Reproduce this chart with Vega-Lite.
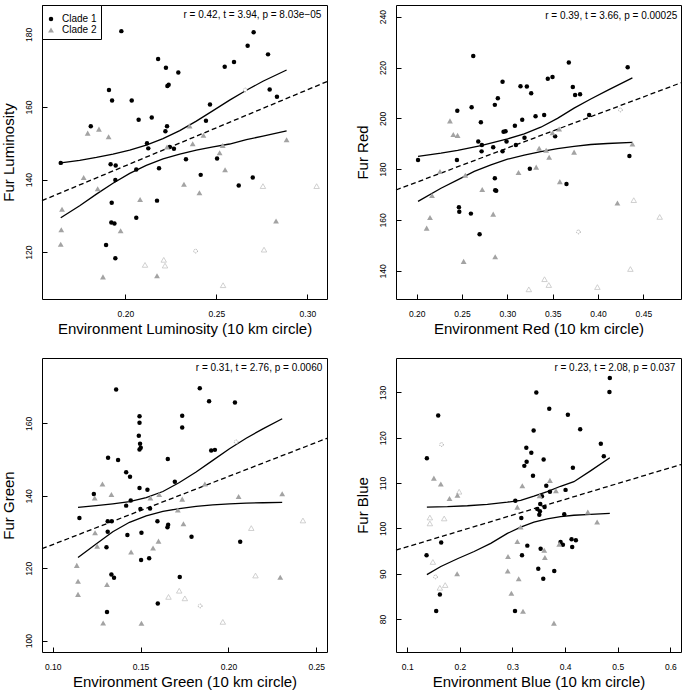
{
"$schema": "https://vega.github.io/schema/vega-lite/v6.json",
"background": "white",
"padding": {"left": 0, "top": 4, "right": 2, "bottom": 0},
"config": {
  "view": {"stroke": "black", "strokeWidth": 1},
  "font": "Liberation Sans",
  "axis": {"domain": false, "grid": false, "ticks": true, "tickSize": -5, "tickColor": "black", "tickWidth": 1,
    "labelFont": "Liberation Sans", "labelFontSize": 8.5, "labelColor": "black", "labelFlush": false, "labelOverlap": false, "labelBound": false,
    "titleFont": "Liberation Sans", "titleFontSize": 15, "titleFontWeight": "normal", "titleColor": "black"},
  "axisX": {"labelPadding": 15.5, "titlePadding": 3},
  "axisY": {"labelAngle": -90, "labelAlign": "center", "labelBaseline": "bottom", "labelPadding": 14, "titlePadding": 8},
  "legend": {"orient": "top-left", "offset": 0, "strokeColor": "black", "fillColor": "white", "padding": 4, "labelFontSize": 10, "labelFont": "Liberation Sans", "labelColor": "black", "symbolSize": 20, "rowPadding": 1, "labelOffset": 6, "symbolStrokeWidth": 0, "cornerRadius": 0, "titleFontSize": 3, "titlePadding": 2}
},
"columns": 2,
"spacing": {"row": 20, "column": 23},
"resolve": {"scale": {"x": "independent", "y": "independent", "color": "independent", "shape": "independent", "size": "independent"}},
"datasets": {
  "p1": [
    {"x":0.1645,"y":144.6,"group":"Clade 1"},{"x":0.1978,"y":180.9,"group":"Clade 1"},{"x":0.181,"y":154.7,"group":"Clade 1"},{"x":0.191,"y":164.7,"group":"Clade 1"},{"x":0.1927,"y":161.8,"group":"Clade 1"},{"x":0.2035,"y":161.8,"group":"Clade 1"},{"x":0.2073,"y":156.5,"group":"Clade 1"},{"x":0.2145,"y":157.1,"group":"Clade 1"},{"x":0.218,"y":173.2,"group":"Clade 1"},{"x":0.2223,"y":170.8,"group":"Clade 1"},{"x":0.2231,"y":165.8,"group":"Clade 1"},{"x":0.2238,"y":166.1,"group":"Clade 1"},{"x":0.2291,"y":169.5,"group":"Clade 1"},{"x":0.2229,"y":154.7,"group":"Clade 1"},{"x":0.222,"y":153.3,"group":"Clade 1"},{"x":0.2119,"y":150.0,"group":"Clade 1"},{"x":0.2126,"y":148.6,"group":"Clade 1"},{"x":0.2244,"y":149.0,"group":"Clade 1"},{"x":0.2267,"y":148.5,"group":"Clade 1"},{"x":0.1919,"y":144.2,"group":"Clade 1"},{"x":0.1947,"y":143.9,"group":"Clade 1"},{"x":0.1945,"y":139.9,"group":"Clade 1"},{"x":0.206,"y":142.8,"group":"Clade 1"},{"x":0.2185,"y":143.1,"group":"Clade 1"},{"x":0.2333,"y":145.6,"group":"Clade 1"},{"x":0.2414,"y":141.3,"group":"Clade 1"},{"x":0.2465,"y":160.7,"group":"Clade 1"},{"x":0.2443,"y":156.2,"group":"Clade 1"},{"x":0.2504,"y":145.8,"group":"Clade 1"},{"x":0.2546,"y":171.1,"group":"Clade 1"},{"x":0.2597,"y":172.4,"group":"Clade 1"},{"x":0.2623,"y":138.4,"group":"Clade 1"},{"x":0.2672,"y":176.9,"group":"Clade 1"},{"x":0.27,"y":140.6,"group":"Clade 1"},{"x":0.2705,"y":180.6,"group":"Clade 1"},{"x":0.2784,"y":174.5,"group":"Clade 1"},{"x":0.2793,"y":164.8,"group":"Clade 1"},{"x":0.2833,"y":162.8,"group":"Clade 1"},{"x":0.2174,"y":134.2,"group":"Clade 1"},{"x":0.1925,"y":133.6,"group":"Clade 1"},{"x":0.1923,"y":128.2,"group":"Clade 1"},{"x":0.194,"y":127.9,"group":"Clade 1"},{"x":0.206,"y":129.5,"group":"Clade 1"},{"x":0.1894,"y":122.0,"group":"Clade 1"},{"x":0.1945,"y":118.3,"group":"Clade 1"},
    {"x":0.1793,"y":152.8,"group":"Clade 2"},{"x":0.1855,"y":153.9,"group":"Clade 2"},{"x":0.1908,"y":151.8,"group":"Clade 2"},{"x":0.1771,"y":140.6,"group":"Clade 2"},{"x":0.1848,"y":137.5,"group":"Clade 2"},{"x":0.1652,"y":131.8,"group":"Clade 2"},{"x":0.1648,"y":126.2,"group":"Clade 2"},{"x":0.1645,"y":122.2,"group":"Clade 2"},{"x":0.1974,"y":125.9,"group":"Clade 2"},{"x":0.2081,"y":134.5,"group":"Clade 2"},{"x":0.1877,"y":113.2,"group":"Clade 2"},{"x":0.2174,"y":113.5,"group":"Clade 2"},{"x":0.2353,"y":154.8,"group":"Clade 2"},{"x":0.237,"y":149.9,"group":"Clade 2"},{"x":0.2429,"y":152.2,"group":"Clade 2"},{"x":0.2229,"y":149.0,"group":"Clade 2"},{"x":0.2322,"y":138.7,"group":"Clade 2"},{"x":0.2407,"y":136.4,"group":"Clade 2"},{"x":0.2518,"y":147.4,"group":"Clade 2"},{"x":0.2535,"y":149.4,"group":"Clade 2"},{"x":0.2548,"y":142.7,"group":"Clade 2"},{"x":0.2886,"y":151.0,"group":"Clade 2"},{"x":0.2828,"y":128.6,"group":"Clade 2"},
    {"x":0.2108,"y":116.5,"group":"Clade 2 open"},{"x":0.2211,"y":117.9,"group":"Clade 2 open"},{"x":0.2218,"y":116.3,"group":"Clade 2 open"},{"x":0.2537,"y":110.9,"group":"Clade 2 open"},{"x":0.2756,"y":138.2,"group":"Clade 2 open"},{"x":0.2762,"y":120.7,"group":"Clade 2 open"},{"x":0.3051,"y":138.2,"group":"Clade 2 open"},
    {"x":0.2386,"y":120.3,"group":"Clade 1 open"},{"x":0.2659,"y":164.7,"group":"Clade 1 open"}
  ],
  "b1": [
    {"x":0.1645,"y":144.6,"band":"upper"},{"x":0.1749,"y":145.3,"band":"upper"},{"x":0.1841,"y":146.1,"band":"upper"},{"x":0.1932,"y":147.0,"band":"upper"},{"x":0.2024,"y":148.1,"band":"upper"},{"x":0.2115,"y":149.5,"band":"upper"},{"x":0.2207,"y":151.3,"band":"upper"},{"x":0.2299,"y":153.5,"band":"upper"},{"x":0.239,"y":156.1,"band":"upper"},{"x":0.2482,"y":159.0,"band":"upper"},{"x":0.2573,"y":161.9,"band":"upper"},{"x":0.2665,"y":164.6,"band":"upper"},{"x":0.2756,"y":167.1,"band":"upper"},{"x":0.2886,"y":170.2,"band":"upper"},
    {"x":0.1645,"y":129.5,"band":"lower"},{"x":0.1749,"y":132.8,"band":"lower"},{"x":0.1841,"y":136.0,"band":"lower"},{"x":0.1932,"y":139.0,"band":"lower"},{"x":0.2024,"y":141.7,"band":"lower"},{"x":0.2115,"y":143.9,"band":"lower"},{"x":0.2207,"y":145.7,"band":"lower"},{"x":0.2299,"y":147.0,"band":"lower"},{"x":0.239,"y":148.1,"band":"lower"},{"x":0.2482,"y":149.0,"band":"lower"},{"x":0.2573,"y":149.8,"band":"lower"},{"x":0.2665,"y":151.0,"band":"lower"},{"x":0.2756,"y":152.0,"band":"lower"},{"x":0.2886,"y":153.4,"band":"lower"}
  ],
  "f1": [{"x":0.1542,"y":134.2},{"x":0.3108,"y":167.0}],
  "t1": [{"x":0.3077,"y":185.3,"label":"r = 0.42, t = 3.94, p = 8.03e−05"}],
  "p2": [
    {"x":0.2015,"y":183.6,"group":"Clade 1"},{"x":0.2624,"y":224.5,"group":"Clade 1"},{"x":0.2448,"y":203.0,"group":"Clade 1"},{"x":0.2606,"y":204.4,"group":"Clade 1"},{"x":0.2708,"y":198.5,"group":"Clade 1"},{"x":0.2679,"y":190.9,"group":"Clade 1"},{"x":0.2719,"y":189.5,"group":"Clade 1"},{"x":0.2716,"y":187.0,"group":"Clade 1"},{"x":0.2444,"y":183.6,"group":"Clade 1"},{"x":0.2844,"y":188.6,"group":"Clade 1"},{"x":0.2862,"y":205.3,"group":"Clade 1"},{"x":0.2895,"y":207.9,"group":"Clade 1"},{"x":0.2947,"y":214.4,"group":"Clade 1"},{"x":0.2958,"y":194.7,"group":"Clade 1"},{"x":0.298,"y":194.9,"group":"Clade 1"},{"x":0.2991,"y":190.9,"group":"Clade 1"},{"x":0.2947,"y":187.0,"group":"Clade 1"},{"x":0.3083,"y":197.1,"group":"Clade 1"},{"x":0.3094,"y":189.5,"group":"Clade 1"},{"x":0.3145,"y":212.6,"group":"Clade 1"},{"x":0.3164,"y":199.4,"group":"Clade 1"},{"x":0.3189,"y":192.4,"group":"Clade 1"},{"x":0.3215,"y":212.5,"group":"Clade 1"},{"x":0.3263,"y":209.9,"group":"Clade 1"},{"x":0.3248,"y":180.2,"group":"Clade 1"},{"x":0.3311,"y":200.8,"group":"Clade 1"},{"x":0.3406,"y":201.3,"group":"Clade 1"},{"x":0.3446,"y":215.6,"group":"Clade 1"},{"x":0.3498,"y":216.3,"group":"Clade 1"},{"x":0.3527,"y":192.9,"group":"Clade 1"},{"x":0.3678,"y":222.0,"group":"Clade 1"},{"x":0.3722,"y":212.3,"group":"Clade 1"},{"x":0.3747,"y":209.2,"group":"Clade 1"},{"x":0.3802,"y":209.5,"group":"Clade 1"},{"x":0.3902,"y":201.3,"group":"Clade 1"},{"x":0.3652,"y":174.2,"group":"Clade 1"},{"x":0.4327,"y":220.1,"group":"Clade 1"},{"x":0.4346,"y":185.2,"group":"Clade 1"},{"x":0.2862,"y":176.4,"group":"Clade 1"},{"x":0.2866,"y":171.7,"group":"Clade 1"},{"x":0.2877,"y":171.5,"group":"Clade 1"},{"x":0.2466,"y":165.0,"group":"Clade 1"},{"x":0.247,"y":163.2,"group":"Clade 1"},{"x":0.2598,"y":162.5,"group":"Clade 1"},{"x":0.2694,"y":154.4,"group":"Clade 1"},
    {"x":0.2367,"y":199.0,"group":"Clade 2"},{"x":0.2404,"y":193.6,"group":"Clade 2"},{"x":0.2451,"y":193.3,"group":"Clade 2"},{"x":0.2257,"y":179.1,"group":"Clade 2"},{"x":0.2536,"y":177.6,"group":"Clade 2"},{"x":0.2169,"y":169.6,"group":"Clade 2"},{"x":0.2147,"y":161.0,"group":"Clade 2"},{"x":0.211,"y":156.8,"group":"Clade 2"},{"x":0.2723,"y":172.0,"group":"Clade 2"},{"x":0.2844,"y":162.3,"group":"Clade 2"},{"x":0.2518,"y":143.7,"group":"Clade 2"},{"x":0.2866,"y":145.5,"group":"Clade 2"},{"x":0.3123,"y":178.7,"group":"Clade 2"},{"x":0.3318,"y":180.8,"group":"Clade 2"},{"x":0.3351,"y":188.2,"group":"Clade 2"},{"x":0.3428,"y":187.4,"group":"Clade 2"},{"x":0.3461,"y":184.7,"group":"Clade 2"},{"x":0.3498,"y":194.3,"group":"Clade 2"},{"x":0.3571,"y":195.8,"group":"Clade 2"},{"x":0.3579,"y":175.1,"group":"Clade 2"},{"x":0.3736,"y":186.7,"group":"Clade 2"},{"x":0.4214,"y":166.7,"group":"Clade 2"},{"x":0.4379,"y":189.9,"group":"Clade 2"},
    {"x":0.3237,"y":132.7,"group":"Clade 2 open"},{"x":0.341,"y":136.7,"group":"Clade 2 open"},{"x":0.3457,"y":134.4,"group":"Clade 2 open"},{"x":0.3993,"y":133.6,"group":"Clade 2 open"},{"x":0.4357,"y":140.7,"group":"Clade 2 open"},{"x":0.4394,"y":167.8,"group":"Clade 2 open"},{"x":0.468,"y":161.2,"group":"Clade 2 open"},
    {"x":0.3784,"y":155.3,"group":"Clade 1 open"},{"x":0.4247,"y":203.3,"group":"Clade 1 open"}
  ],
  "b2": [
    {"x":0.2015,"y":185.0,"band":"upper"},{"x":0.2268,"y":186.3,"band":"upper"},{"x":0.2452,"y":187.4,"band":"upper"},{"x":0.2709,"y":189.3,"band":"upper"},{"x":0.3002,"y":191.9,"band":"upper"},{"x":0.3186,"y":193.9,"band":"upper"},{"x":0.3369,"y":196.5,"band":"upper"},{"x":0.3553,"y":200.0,"band":"upper"},{"x":0.3736,"y":204.0,"band":"upper"},{"x":0.392,"y":207.6,"band":"upper"},{"x":0.4104,"y":211.0,"band":"upper"},{"x":0.4379,"y":215.9,"band":"upper"},
    {"x":0.2015,"y":167.3,"band":"lower"},{"x":0.2268,"y":172.5,"band":"lower"},{"x":0.2452,"y":175.8,"band":"lower"},{"x":0.2635,"y":179.1,"band":"lower"},{"x":0.2819,"y":181.7,"band":"lower"},{"x":0.3002,"y":183.9,"band":"lower"},{"x":0.3186,"y":185.5,"band":"lower"},{"x":0.3369,"y":186.9,"band":"lower"},{"x":0.3553,"y":188.1,"band":"lower"},{"x":0.3736,"y":189.0,"band":"lower"},{"x":0.392,"y":189.7,"band":"lower"},{"x":0.4104,"y":190.1,"band":"lower"},{"x":0.4379,"y":190.5,"band":"lower"}
  ],
  "f2": [{"x":0.1772,"y":171.8},{"x":0.4915,"y":214.0}],
  "t2": [{"x":0.4874,"y":240.4,"label":"r = 0.39, t = 3.66, p = 0.00025"}],
  "p3": [
    {"x":0.1152,"y":133.9,"group":"Clade 1"},{"x":0.1234,"y":140.5,"group":"Clade 1"},{"x":0.1315,"y":150.5,"group":"Clade 1"},{"x":0.1361,"y":169.4,"group":"Clade 1"},{"x":0.1372,"y":149.9,"group":"Clade 1"},{"x":0.1418,"y":146.5,"group":"Clade 1"},{"x":0.144,"y":145.3,"group":"Clade 1"},{"x":0.1418,"y":137.3,"group":"Clade 1"},{"x":0.1444,"y":138.7,"group":"Clade 1"},{"x":0.1313,"y":133.0,"group":"Clade 1"},{"x":0.1336,"y":133.0,"group":"Clade 1"},{"x":0.1313,"y":130.1,"group":"Clade 1"},{"x":0.1425,"y":129.2,"group":"Clade 1"},{"x":0.1306,"y":125.8,"group":"Clade 1"},{"x":0.1494,"y":162.0,"group":"Clade 1"},{"x":0.1494,"y":160.2,"group":"Clade 1"},{"x":0.149,"y":156.6,"group":"Clade 1"},{"x":0.1497,"y":154.4,"group":"Clade 1"},{"x":0.1501,"y":153.3,"group":"Clade 1"},{"x":0.1494,"y":152.8,"group":"Clade 1"},{"x":0.1494,"y":142.2,"group":"Clade 1"},{"x":0.1499,"y":136.4,"group":"Clade 1"},{"x":0.1505,"y":129.8,"group":"Clade 1"},{"x":0.1503,"y":122.3,"group":"Clade 1"},{"x":0.1539,"y":141.7,"group":"Clade 1"},{"x":0.1554,"y":136.5,"group":"Clade 1"},{"x":0.1549,"y":122.8,"group":"Clade 1"},{"x":0.1596,"y":133.0,"group":"Clade 1"},{"x":0.1598,"y":110.3,"group":"Clade 1"},{"x":0.1655,"y":150.2,"group":"Clade 1"},{"x":0.1653,"y":131.3,"group":"Clade 1"},{"x":0.1657,"y":132.0,"group":"Clade 1"},{"x":0.1695,"y":143.9,"group":"Clade 1"},{"x":0.1737,"y":162.1,"group":"Clade 1"},{"x":0.1737,"y":158.9,"group":"Clade 1"},{"x":0.1723,"y":117.6,"group":"Clade 1"},{"x":0.1334,"y":118.3,"group":"Clade 1"},{"x":0.1349,"y":117.4,"group":"Clade 1"},{"x":0.1309,"y":107.9,"group":"Clade 1"},{"x":0.179,"y":128.7,"group":"Clade 1"},{"x":0.1837,"y":169.7,"group":"Clade 1"},{"x":0.189,"y":166.1,"group":"Clade 1"},{"x":0.1902,"y":152.5,"group":"Clade 1"},{"x":0.1923,"y":152.7,"group":"Clade 1"},{"x":0.2037,"y":165.8,"group":"Clade 1"},{"x":0.2067,"y":127.3,"group":"Clade 1"},
    {"x":0.1137,"y":120.8,"group":"Clade 2"},{"x":0.1144,"y":116.4,"group":"Clade 2"},{"x":0.1144,"y":112.8,"group":"Clade 2"},{"x":0.1239,"y":139.4,"group":"Clade 2"},{"x":0.1241,"y":129.8,"group":"Clade 2"},{"x":0.1253,"y":126.1,"group":"Clade 2"},{"x":0.1283,"y":143.3,"group":"Clade 2"},{"x":0.1334,"y":140.4,"group":"Clade 2"},{"x":0.1309,"y":115.5,"group":"Clade 2"},{"x":0.1287,"y":104.9,"group":"Clade 2"},{"x":0.1446,"y":124.5,"group":"Clade 2"},{"x":0.1505,"y":104.8,"group":"Clade 2"},{"x":0.1556,"y":139.4,"group":"Clade 2"},{"x":0.1606,"y":140.4,"group":"Clade 2"},{"x":0.1571,"y":125.6,"group":"Clade 2"},{"x":0.1602,"y":127.5,"group":"Clade 2"},{"x":0.1712,"y":136.1,"group":"Clade 2"},{"x":0.1737,"y":139.1,"group":"Clade 2"},{"x":0.1744,"y":132.3,"group":"Clade 2"},{"x":0.1866,"y":143.3,"group":"Clade 2"},{"x":0.2058,"y":139.8,"group":"Clade 2"},{"x":0.2306,"y":140.6,"group":"Clade 2"},{"x":0.2295,"y":117.5,"group":"Clade 2"},
    {"x":0.1659,"y":112.1,"group":"Clade 2 open"},{"x":0.172,"y":113.8,"group":"Clade 2 open"},{"x":0.1752,"y":111.7,"group":"Clade 2 open"},{"x":0.1968,"y":105.2,"group":"Clade 2 open"},{"x":0.213,"y":131.1,"group":"Clade 2 open"},{"x":0.2154,"y":118.0,"group":"Clade 2 open"},{"x":0.2424,"y":133.2,"group":"Clade 2 open"},
    {"x":0.1839,"y":109.6,"group":"Clade 1 open"},{"x":0.2044,"y":154.9,"group":"Clade 1 open"}
  ],
  "b3": [
    {"x":0.1144,"y":136.8,"band":"upper"},{"x":0.1247,"y":137.3,"band":"upper"},{"x":0.1342,"y":137.8,"band":"upper"},{"x":0.1437,"y":138.4,"band":"upper"},{"x":0.1532,"y":139.5,"band":"upper"},{"x":0.1627,"y":141.2,"band":"upper"},{"x":0.1721,"y":143.7,"band":"upper"},{"x":0.1816,"y":146.6,"band":"upper"},{"x":0.1911,"y":149.8,"band":"upper"},{"x":0.2006,"y":153.0,"band":"upper"},{"x":0.2101,"y":155.9,"band":"upper"},{"x":0.2196,"y":158.5,"band":"upper"},{"x":0.2306,"y":161.3,"band":"upper"},
    {"x":0.1144,"y":123.0,"band":"lower"},{"x":0.1247,"y":126.7,"band":"lower"},{"x":0.1342,"y":130.1,"band":"lower"},{"x":0.1437,"y":132.7,"band":"lower"},{"x":0.1532,"y":134.5,"band":"lower"},{"x":0.1627,"y":135.7,"band":"lower"},{"x":0.1721,"y":136.5,"band":"lower"},{"x":0.1816,"y":137.1,"band":"lower"},{"x":0.1911,"y":137.5,"band":"lower"},{"x":0.2006,"y":137.8,"band":"lower"},{"x":0.2101,"y":138.0,"band":"lower"},{"x":0.2196,"y":138.1,"band":"lower"},{"x":0.2306,"y":138.2,"band":"lower"}
  ],
  "f3": [{"x":0.0939,"y":125.4},{"x":0.2561,"y":155.9}],
  "t3": [{"x":0.2534,"y":175.3,"label":"r = 0.31, t = 2.76, p = 0.0060"}],
  "p4": [
    {"x":0.1373,"y":115.5,"group":"Clade 1"},{"x":0.1588,"y":124.9,"group":"Clade 1"},{"x":0.1367,"y":94.1,"group":"Clade 1"},{"x":0.1645,"y":96.9,"group":"Clade 1"},{"x":0.162,"y":85.4,"group":"Clade 1"},{"x":0.155,"y":81.8,"group":"Clade 1"},{"x":0.3453,"y":130.0,"group":"Clade 1"},{"x":0.3402,"y":121.6,"group":"Clade 1"},{"x":0.3263,"y":117.8,"group":"Clade 1"},{"x":0.3269,"y":114.7,"group":"Clade 1"},{"x":0.3358,"y":116.7,"group":"Clade 1"},{"x":0.3225,"y":113.8,"group":"Clade 1"},{"x":0.339,"y":111.6,"group":"Clade 1"},{"x":0.3592,"y":115.2,"group":"Clade 1"},{"x":0.3699,"y":126.4,"group":"Clade 1"},{"x":0.4053,"y":125.1,"group":"Clade 1"},{"x":0.4287,"y":121.9,"group":"Clade 1"},{"x":0.485,"y":133.2,"group":"Clade 1"},{"x":0.4843,"y":130.1,"group":"Clade 1"},{"x":0.4679,"y":118.7,"group":"Clade 1"},{"x":0.4736,"y":115.9,"group":"Clade 1"},{"x":0.4148,"y":113.4,"group":"Clade 1"},{"x":0.3642,"y":109.4,"group":"Clade 1"},{"x":0.3712,"y":108.1,"group":"Clade 1"},{"x":0.4009,"y":108.5,"group":"Clade 1"},{"x":0.3054,"y":106.1,"group":"Clade 1"},{"x":0.356,"y":107.1,"group":"Clade 1"},{"x":0.3528,"y":105.4,"group":"Clade 1"},{"x":0.361,"y":104.7,"group":"Clade 1"},{"x":0.3472,"y":104.3,"group":"Clade 1"},{"x":0.3522,"y":103.8,"group":"Clade 1"},{"x":0.351,"y":103.0,"group":"Clade 1"},{"x":0.3168,"y":102.3,"group":"Clade 1"},{"x":0.3984,"y":103.1,"group":"Clade 1"},{"x":0.4123,"y":97.6,"group":"Clade 1"},{"x":0.4205,"y":97.4,"group":"Clade 1"},{"x":0.3282,"y":96.2,"group":"Clade 1"},{"x":0.3535,"y":95.5,"group":"Clade 1"},{"x":0.3914,"y":97.0,"group":"Clade 1"},{"x":0.3958,"y":96.4,"group":"Clade 1"},{"x":0.4135,"y":95.9,"group":"Clade 1"},{"x":0.3181,"y":94.1,"group":"Clade 1"},{"x":0.349,"y":91.1,"group":"Clade 1"},{"x":0.3585,"y":88.9,"group":"Clade 1"},{"x":0.3794,"y":90.6,"group":"Clade 1"},{"x":0.3048,"y":81.8,"group":"Clade 1"},
    {"x":0.1506,"y":111.1,"group":"Clade 2"},{"x":0.1638,"y":109.8,"group":"Clade 2"},{"x":0.1803,"y":106.6,"group":"Clade 2"},{"x":0.1954,"y":107.3,"group":"Clade 2"},{"x":0.1948,"y":90.0,"group":"Clade 2"},{"x":0.2915,"y":93.8,"group":"Clade 2"},{"x":0.2909,"y":90.6,"group":"Clade 2"},{"x":0.2979,"y":85.7,"group":"Clade 2"},{"x":0.3092,"y":104.7,"group":"Clade 2"},{"x":0.3092,"y":97.1,"group":"Clade 2"},{"x":0.3118,"y":88.9,"group":"Clade 2"},{"x":0.3187,"y":109.4,"group":"Clade 2"},{"x":0.3155,"y":100.3,"group":"Clade 2"},{"x":0.32,"y":81.7,"group":"Clade 2"},{"x":0.3516,"y":107.2,"group":"Clade 2"},{"x":0.3604,"y":95.2,"group":"Clade 2"},{"x":0.3616,"y":93.6,"group":"Clade 2"},{"x":0.3712,"y":110.6,"group":"Clade 2"},{"x":0.3826,"y":108.3,"group":"Clade 2"},{"x":0.3889,"y":96.5,"group":"Clade 2"},{"x":0.3788,"y":79.1,"group":"Clade 2"},{"x":0.4432,"y":103.6,"group":"Clade 2"},{"x":0.4609,"y":101.4,"group":"Clade 2"},
    {"x":0.1986,"y":108.1,"group":"Clade 2 open"},{"x":0.143,"y":102.4,"group":"Clade 2 open"},{"x":0.143,"y":101.1,"group":"Clade 2 open"},{"x":0.1702,"y":102.2,"group":"Clade 2 open"},{"x":0.1487,"y":92.6,"group":"Clade 2 open"},{"x":0.162,"y":86.9,"group":"Clade 2 open"},{"x":0.1721,"y":87.5,"group":"Clade 2 open"},
    {"x":0.1651,"y":118.5,"group":"Clade 1 open"},{"x":0.1537,"y":89.3,"group":"Clade 1 open"}
  ],
  "b4": [
    {"x":0.1373,"y":104.7,"band":"upper"},{"x":0.1765,"y":104.8,"band":"upper"},{"x":0.2144,"y":105.0,"band":"upper"},{"x":0.2523,"y":105.3,"band":"upper"},{"x":0.2903,"y":105.8,"band":"upper"},{"x":0.3156,"y":106.2,"band":"upper"},{"x":0.3408,"y":107.1,"band":"upper"},{"x":0.3661,"y":108.1,"band":"upper"},{"x":0.3914,"y":109.3,"band":"upper"},{"x":0.4167,"y":110.3,"band":"upper"},{"x":0.4483,"y":112.7,"band":"upper"},{"x":0.485,"y":115.6,"band":"upper"},
    {"x":0.1373,"y":89.8,"band":"lower"},{"x":0.1638,"y":91.6,"band":"lower"},{"x":0.1954,"y":93.3,"band":"lower"},{"x":0.2271,"y":94.9,"band":"lower"},{"x":0.2587,"y":96.7,"band":"lower"},{"x":0.2903,"y":98.9,"band":"lower"},{"x":0.3156,"y":100.3,"band":"lower"},{"x":0.3408,"y":101.4,"band":"lower"},{"x":0.3661,"y":102.1,"band":"lower"},{"x":0.3914,"y":102.6,"band":"lower"},{"x":0.4167,"y":102.9,"band":"lower"},{"x":0.4483,"y":103.1,"band":"lower"},{"x":0.485,"y":103.3,"band":"lower"}
  ],
  "f4": [{"x":0.0786,"y":95.2},{"x":0.6203,"y":114.1}],
  "t4": [{"x":0.6095,"y":135.4,"label":"r = 0.23, t = 2.08, p = 0.037"}]
},
"concat": [
  {"width": 285, "height": 294,
   "encoding": {
     "x": {"field": "x", "type": "quantitative", "scale": {"domain": [0.1542, 0.3108], "nice": false, "zero": false}, "axis": {"title": "Environment Luminosity (10 km circle)", "values": [0.2, 0.25, 0.3], "format": ".2f"}},
     "y": {"field": "y", "type": "quantitative", "scale": {"domain": [107.1, 188.1], "nice": false, "zero": false}, "axis": {"title": "Fur Luminosity", "values": [120, 140, 160, 180]}}
   },
   "layer": [
     {"data": {"name": "b1"}, "mark": {"type": "line", "color": "black", "strokeWidth": 1.3}, "encoding": {"detail": {"field": "band"}}},
     {"data": {"name": "f1"}, "mark": {"type": "line", "color": "black", "strokeWidth": 1.3, "strokeDash": [5, 3]}, "encoding": {}},
     {"data": {"name": "p1"}, "transform": [{"filter": {"field": "group", "equal": "Clade 2 open"}}], "mark": {"type": "point", "shape": "triangle-up", "fill": "white", "stroke": "#c4c4c4", "strokeWidth": 0.8, "size": 30, "opacity": 1}},
     {"data": {"name": "p1"}, "transform": [{"filter": {"field": "group", "equal": "Clade 1 open"}}], "mark": {"type": "point", "shape": "circle", "fill": "white", "stroke": "#8a8a8a", "strokeWidth": 0.8, "strokeDash": [1, 1], "size": 14, "opacity": 1}},
     {"data": {"name": "p1"}, "transform": [{"filter": {"field": "group", "oneOf": ["Clade 1", "Clade 2"]}}], "mark": {"type": "point", "filled": true, "opacity": 1, "strokeWidth": 0},
      "encoding": {
        "color": {"field": "group", "type": "nominal", "scale": {"domain": ["Clade 1", "Clade 2"], "range": ["black", "#a3a3a3"]}, "legend": {"title": " "}},
        "shape": {"field": "group", "type": "nominal", "scale": {"domain": ["Clade 1", "Clade 2"], "range": ["circle", "triangle-up"]}, "legend": {"title": " "}},
        "size": {"field": "group", "type": "nominal", "scale": {"domain": ["Clade 1", "Clade 2"], "range": [20, 34]}, "legend": null}
      }},
     {"data": {"name": "t1"}, "mark": {"type": "text", "align": "right", "baseline": "middle", "fontSize": 10, "color": "black", "font": "Liberation Sans"}, "encoding": {"text": {"field": "label"}}}
   ]},
  {"width": 285, "height": 294,
   "encoding": {
     "x": {"field": "x", "type": "quantitative", "scale": {"domain": [0.1772, 0.4915], "nice": false, "zero": false}, "axis": {"title": "Environment Red (10 km circle)", "values": [0.2, 0.25, 0.3, 0.35, 0.4, 0.45], "format": ".2f"}},
     "y": {"field": "y", "type": "quantitative", "scale": {"domain": [128.9, 244.6], "nice": false, "zero": false}, "axis": {"title": "Fur Red", "values": [140, 160, 180, 200, 220, 240]}}
   },
   "layer": [
     {"data": {"name": "b2"}, "mark": {"type": "line", "color": "black", "strokeWidth": 1.3}, "encoding": {"detail": {"field": "band"}}},
     {"data": {"name": "f2"}, "mark": {"type": "line", "color": "black", "strokeWidth": 1.3, "strokeDash": [5, 3]}, "encoding": {}},
     {"data": {"name": "p2"}, "transform": [{"filter": {"field": "group", "equal": "Clade 2 open"}}], "mark": {"type": "point", "shape": "triangle-up", "fill": "white", "stroke": "#c4c4c4", "strokeWidth": 0.8, "size": 30, "opacity": 1}},
     {"data": {"name": "p2"}, "transform": [{"filter": {"field": "group", "equal": "Clade 1 open"}}], "mark": {"type": "point", "shape": "circle", "fill": "white", "stroke": "#8a8a8a", "strokeWidth": 0.8, "strokeDash": [1, 1], "size": 14, "opacity": 1}},
     {"data": {"name": "p2"}, "transform": [{"filter": {"field": "group", "oneOf": ["Clade 1", "Clade 2"]}}], "mark": {"type": "point", "filled": true, "opacity": 1, "strokeWidth": 0},
      "encoding": {
        "color": {"field": "group", "type": "nominal", "scale": {"domain": ["Clade 1", "Clade 2"], "range": ["black", "#a3a3a3"]}, "legend": null},
        "shape": {"field": "group", "type": "nominal", "scale": {"domain": ["Clade 1", "Clade 2"], "range": ["circle", "triangle-up"]}, "legend": null},
        "size": {"field": "group", "type": "nominal", "scale": {"domain": ["Clade 1", "Clade 2"], "range": [20, 34]}, "legend": null}
      }},
     {"data": {"name": "t2"}, "mark": {"type": "text", "align": "right", "baseline": "middle", "fontSize": 10, "color": "black", "font": "Liberation Sans"}, "encoding": {"text": {"field": "label"}}}
   ]},
  {"width": 285, "height": 294,
   "encoding": {
     "x": {"field": "x", "type": "quantitative", "scale": {"domain": [0.0939, 0.2561], "nice": false, "zero": false}, "axis": {"title": "Environment Green (10 km circle)", "values": [0.1, 0.15, 0.2, 0.25], "format": ".2f"}},
     "y": {"field": "y", "type": "quantitative", "scale": {"domain": [96.88, 178.07], "nice": false, "zero": false}, "axis": {"title": "Fur Green", "values": [100, 120, 140, 160]}}
   },
   "layer": [
     {"data": {"name": "b3"}, "mark": {"type": "line", "color": "black", "strokeWidth": 1.3}, "encoding": {"detail": {"field": "band"}}},
     {"data": {"name": "f3"}, "mark": {"type": "line", "color": "black", "strokeWidth": 1.3, "strokeDash": [5, 3]}, "encoding": {}},
     {"data": {"name": "p3"}, "transform": [{"filter": {"field": "group", "equal": "Clade 2 open"}}], "mark": {"type": "point", "shape": "triangle-up", "fill": "white", "stroke": "#c4c4c4", "strokeWidth": 0.8, "size": 30, "opacity": 1}},
     {"data": {"name": "p3"}, "transform": [{"filter": {"field": "group", "equal": "Clade 1 open"}}], "mark": {"type": "point", "shape": "circle", "fill": "white", "stroke": "#8a8a8a", "strokeWidth": 0.8, "strokeDash": [1, 1], "size": 14, "opacity": 1}},
     {"data": {"name": "p3"}, "transform": [{"filter": {"field": "group", "oneOf": ["Clade 1", "Clade 2"]}}], "mark": {"type": "point", "filled": true, "opacity": 1, "strokeWidth": 0},
      "encoding": {
        "color": {"field": "group", "type": "nominal", "scale": {"domain": ["Clade 1", "Clade 2"], "range": ["black", "#a3a3a3"]}, "legend": null},
        "shape": {"field": "group", "type": "nominal", "scale": {"domain": ["Clade 1", "Clade 2"], "range": ["circle", "triangle-up"]}, "legend": null},
        "size": {"field": "group", "type": "nominal", "scale": {"domain": ["Clade 1", "Clade 2"], "range": [20, 34]}, "legend": null}
      }},
     {"data": {"name": "t3"}, "mark": {"type": "text", "align": "right", "baseline": "middle", "fontSize": 10, "color": "black", "font": "Liberation Sans"}, "encoding": {"text": {"field": "label"}}}
   ]},
  {"width": 285, "height": 294,
   "encoding": {
     "x": {"field": "x", "type": "quantitative", "scale": {"domain": [0.0786, 0.6203], "nice": false, "zero": false}, "axis": {"title": "Environment Blue (10 km circle)", "values": [0.1, 0.2, 0.3, 0.4, 0.5, 0.6], "format": ".1f"}},
     "y": {"field": "y", "type": "quantitative", "scale": {"domain": [72.73, 137.6], "nice": false, "zero": false}, "axis": {"title": "Fur Blue", "values": [80, 90, 100, 110, 120, 130]}}
   },
   "layer": [
     {"data": {"name": "b4"}, "mark": {"type": "line", "color": "black", "strokeWidth": 1.3}, "encoding": {"detail": {"field": "band"}}},
     {"data": {"name": "f4"}, "mark": {"type": "line", "color": "black", "strokeWidth": 1.3, "strokeDash": [5, 3]}, "encoding": {}},
     {"data": {"name": "p4"}, "transform": [{"filter": {"field": "group", "equal": "Clade 2 open"}}], "mark": {"type": "point", "shape": "triangle-up", "fill": "white", "stroke": "#c4c4c4", "strokeWidth": 0.8, "size": 30, "opacity": 1}},
     {"data": {"name": "p4"}, "transform": [{"filter": {"field": "group", "equal": "Clade 1 open"}}], "mark": {"type": "point", "shape": "circle", "fill": "white", "stroke": "#8a8a8a", "strokeWidth": 0.8, "strokeDash": [1, 1], "size": 14, "opacity": 1}},
     {"data": {"name": "p4"}, "transform": [{"filter": {"field": "group", "oneOf": ["Clade 1", "Clade 2"]}}], "mark": {"type": "point", "filled": true, "opacity": 1, "strokeWidth": 0},
      "encoding": {
        "color": {"field": "group", "type": "nominal", "scale": {"domain": ["Clade 1", "Clade 2"], "range": ["black", "#a3a3a3"]}, "legend": null},
        "shape": {"field": "group", "type": "nominal", "scale": {"domain": ["Clade 1", "Clade 2"], "range": ["circle", "triangle-up"]}, "legend": null},
        "size": {"field": "group", "type": "nominal", "scale": {"domain": ["Clade 1", "Clade 2"], "range": [20, 34]}, "legend": null}
      }},
     {"data": {"name": "t4"}, "mark": {"type": "text", "align": "right", "baseline": "middle", "fontSize": 10, "color": "black", "font": "Liberation Sans"}, "encoding": {"text": {"field": "label"}}}
   ]}
]
}
